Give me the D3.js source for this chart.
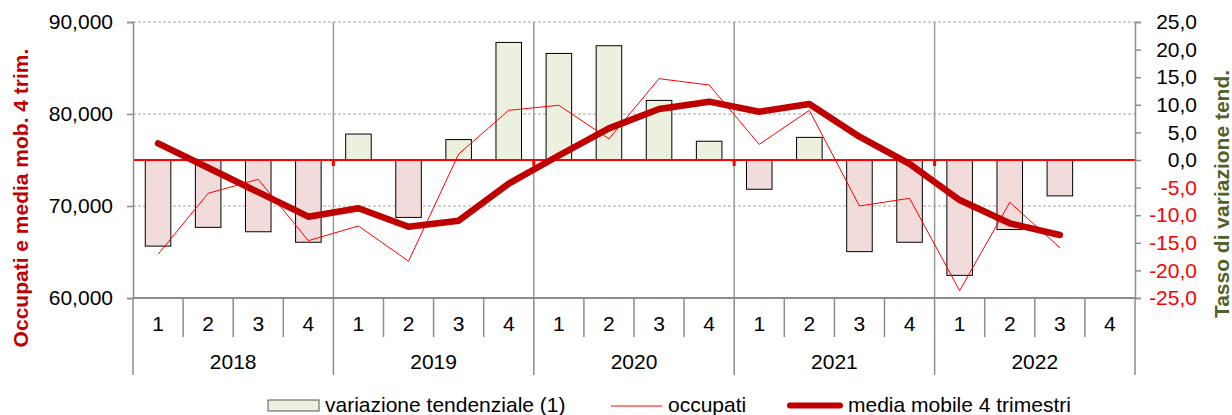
<!DOCTYPE html>
<html>
<head>
<meta charset="utf-8">
<script src="https://cdn.jsdelivr.net/npm/d3@7"></script>
<style>
  body { margin: 0; background: #fff; }
  svg { display: block; font-family: "Liberation Sans", Arial, sans-serif; }
</style>
</head>
<body>
<svg width="1232" height="415"></svg>
<script>
var years = ["2018", "2019", "2020", "2021", "2022"];
var quarters = ["1", "2", "3", "4"];
// variazione tendenziale (%), right axis
var variazione = [-15.6, -12.2, -13.0, -14.9, 4.7, -10.4, 3.7, 21.3, 19.3, 20.7, 10.8, 3.4, -5.3, 4.1, -16.6, -14.9, -20.9, -12.6, -6.5, null];
// occupati, left axis
var occupati = [64750, 71380, 72900, 66230, 67830, 64000, 75650, 80400, 80950, 77300, 83840, 83150, 76700, 80400, 70000, 70840, 60800, 70400, 65470, null];
// media mobile 4 trimestri, left axis
var media = [76800, 74160, 71500, 68840, 69750, 67750, 68400, 72430, 75490, 78440, 80540, 81340, 80250, 81090, 77530, 74570, 70650, 68120, 66850, null];
var leftTicks = [60000, 70000, 80000, 90000];
var rightTicks = [-25, -20, -15, -10, -5, 0, 5, 10, 15, 20, 25];

var svg = d3.select("svg");
var plotLeft = 133, plotRight = 1135, plotTop = 22, plotBottom = 298;

var cats = [];
years.forEach(function(y) {
  quarters.forEach(function(q) { cats.push(y + "-" + q); });
});

var x = d3.scaleBand().domain(cats).range([plotLeft, plotRight]);
var xYear = d3.scaleBand().domain(years).range([plotLeft, plotRight]);
var yL = d3.scaleLinear().domain([60000, 90000]).range([plotBottom, plotTop]);
var yR = d3.scaleLinear().domain([-25, 25]).range([plotBottom, plotTop]);

var grey = "#8c8c8c";

// dashed gridlines
svg.append("g")
  .selectAll("line")
  .data(leftTicks.slice(1))
  .enter().append("line")
  .attr("x1", plotLeft).attr("x2", plotRight)
  .attr("y1", function(d) { return yL(d); })
  .attr("y2", function(d) { return yL(d); })
  .attr("stroke", "#a6a6a6")
  .attr("stroke-dasharray", "3,2");

// year separators through the plot
svg.append("g")
  .selectAll("line")
  .data(years.slice(1))
  .enter().append("line")
  .attr("x1", function(d) { return xYear(d); })
  .attr("x2", function(d) { return xYear(d); })
  .attr("y1", plotTop).attr("y2", plotBottom)
  .attr("stroke", "#9a9a9a")
  .attr("stroke-width", 1.5);

// bars
var barW = x.bandwidth() * 0.51;
svg.append("g")
  .selectAll("rect")
  .data(variazione.map(function(v, i) { return {c: cats[i], v: v}; }).filter(function(d) { return d.v !== null; }))
  .enter().append("rect")
  .attr("x", function(d) { return x(d.c) + (x.bandwidth() - barW) / 2; })
  .attr("width", barW)
  .attr("y", function(d) { return yR(Math.max(0, d.v)); })
  .attr("height", function(d) { return Math.abs(yR(d.v) - yR(0)); })
  .attr("fill", function(d) { return d.v >= 0 ? "#ebf1de" : "#f2dcdb"; })
  .attr("stroke", "#000")
  .attr("stroke-width", 1);

// zero line
svg.append("line")
  .attr("x1", plotLeft).attr("x2", plotRight)
  .attr("y1", yR(0)).attr("y2", yR(0))
  .attr("stroke", "#ff0000")
  .attr("stroke-width", 2);
svg.append("g")
  .selectAll("line")
  .data(years.slice(1))
  .enter().append("line")
  .attr("x1", function(d) { return xYear(d); })
  .attr("x2", function(d) { return xYear(d); })
  .attr("y1", yR(0)).attr("y2", yR(0) + 6)
  .attr("stroke", "#ff0000")
  .attr("stroke-width", 3);

// lines
var lineL = d3.line()
  .defined(function(d) { return d.v !== null; })
  .x(function(d) { return x(d.c) + x.bandwidth() / 2; })
  .y(function(d) { return yL(d.v); });

svg.append("path")
  .datum(occupati.map(function(v, i) { return {c: cats[i], v: v}; }))
  .attr("fill", "none")
  .attr("stroke", "#ff0000")
  .attr("stroke-width", 1)
  .attr("d", lineL);

svg.append("path")
  .datum(media.map(function(v, i) { return {c: cats[i], v: v}; }))
  .attr("fill", "none")
  .attr("stroke", "#c00000")
  .attr("stroke-width", 6.5)
  .attr("stroke-linejoin", "round")
  .attr("stroke-linecap", "round")
  .attr("d", lineL);

// left axis
var gL = svg.append("g")
  .attr("transform", "translate(" + plotLeft + ",0)")
  .call(d3.axisLeft(yL).tickValues(leftTicks).tickSize(6).tickPadding(14)
    .tickFormat(d3.format(",")));
gL.select(".domain").attr("stroke", grey).attr("stroke-width", 1.5);
gL.selectAll(".tick line").attr("stroke", grey).attr("stroke-width", 1.5);
gL.selectAll("text").attr("font-size", 21).attr("fill", "#000")
  .attr("font-family", "Liberation Sans, Arial, sans-serif");

// right axis
var gR = svg.append("g")
  .attr("transform", "translate(" + plotRight + ",0)")
  .call(d3.axisRight(yR).tickValues(rightTicks).tickSize(6).tickPadding(0)
    .tickFormat(function(d) { return d3.format(".1f")(d).replace(".", ",").replace("−", "-"); }));
gR.select(".domain").attr("stroke", grey).attr("stroke-width", 1.5);
gR.selectAll(".tick line").attr("stroke", grey).attr("stroke-width", 1.5);
gR.selectAll("text")
  .attr("font-size", 21)
  .attr("font-family", "Liberation Sans, Arial, sans-serif")
  .attr("text-anchor", "end")
  .attr("x", 62)
  .attr("fill", function(d) { return d < 0 ? "#ff0000" : "#000"; });

// bottom category axis
svg.append("line")
  .attr("x1", plotLeft).attr("x2", plotRight)
  .attr("y1", plotBottom).attr("y2", plotBottom)
  .attr("stroke", grey).attr("stroke-width", 2);

svg.append("g")
  .selectAll("line")
  .data(cats)
  .enter().append("line")
  .attr("x1", function(d) { return x(d); })
  .attr("x2", function(d) { return x(d); })
  .attr("y1", plotBottom)
  .attr("y2", function(d, i) { return i % 4 === 0 ? 375 : 337; })
  .attr("stroke", grey)
  .attr("stroke-width", 1.5);
svg.append("line")
  .attr("x1", plotRight).attr("x2", plotRight)
  .attr("y1", plotBottom).attr("y2", 375)
  .attr("stroke", grey).attr("stroke-width", 1.5);

svg.append("g")
  .selectAll("text")
  .data(cats)
  .enter().append("text")
  .attr("x", function(d) { return x(d) + x.bandwidth() / 2; })
  .attr("y", 331)
  .attr("text-anchor", "middle")
  .attr("font-size", 21)
  .text(function(d) { return d.split("-")[1]; });

svg.append("g")
  .selectAll("text")
  .data(years)
  .enter().append("text")
  .attr("x", function(d) { return xYear(d) + xYear.bandwidth() / 2; })
  .attr("y", 369)
  .attr("text-anchor", "middle")
  .attr("font-size", 21)
  .text(function(d) { return d; });

// axis titles
svg.append("text")
  .attr("transform", "translate(28,198) rotate(-90)")
  .attr("text-anchor", "middle")
  .attr("font-size", 21)
  .attr("font-weight", "bold")
  .attr("fill", "#c00000")
  .text("Occupati e media mob. 4 trim.");

svg.append("text")
  .attr("transform", "translate(1229,194) rotate(-90)")
  .attr("text-anchor", "middle")
  .attr("font-size", 21)
  .attr("font-weight", "bold")
  .attr("fill", "#4f6228")
  .text("Tasso di variazione tend.");

// legend
var lg = svg.append("g");
lg.append("rect")
  .attr("x", 268).attr("y", 400).attr("width", 51).attr("height", 11)
  .attr("fill", "#ebf1de").attr("stroke", "#555").attr("stroke-width", 1);
lg.append("text").attr("x", 325).attr("y", 412).attr("font-size", 21)
  .text("variazione tendenziale (1)");
lg.append("line")
  .attr("x1", 611).attr("x2", 662).attr("y1", 406).attr("y2", 406)
  .attr("stroke", "#ff0000").attr("stroke-width", 1);
lg.append("text").attr("x", 668).attr("y", 412).attr("font-size", 21)
  .text("occupati");
lg.append("line")
  .attr("x1", 790).attr("x2", 840).attr("y1", 405.5).attr("y2", 405.5)
  .attr("stroke", "#c00000").attr("stroke-width", 6).attr("stroke-linecap", "round");
lg.append("text").attr("x", 848).attr("y", 412).attr("font-size", 21)
  .text("media mobile 4 trimestri");
</script>
</body>
</html>
